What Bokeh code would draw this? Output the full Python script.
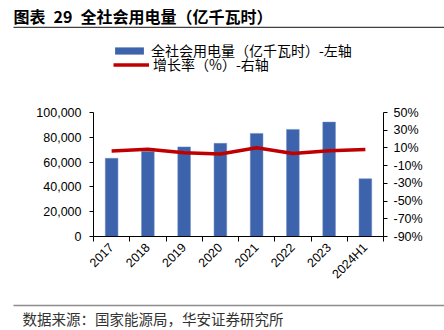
from bokeh.plotting import figure
from bokeh.layouts import column
from bokeh.models import (Range1d, LinearAxis, FixedTicker, NumeralTickFormatter,
                          PrintfTickFormatter, Legend, LegendItem, ColumnDataSource)
from bokeh.core.properties import value
from bokeh.embed import file_html
from bokeh.resources import INLINE
from math import pi

categories = ["2017", "2018", "2019", "2020", "2021", "2022", "2023", "2024H1"]
consumption = [63077, 68449, 72255, 75110, 83128, 86372, 92241, 46575]
growth = [6.6, 8.5, 4.5, 3.1, 10.3, 3.6, 6.7, 8.1]
left_ticks = [0, 20000, 40000, 60000, 80000, 100000]
right_ticks = [-90, -70, -50, -30, -10, 10, 30, 50]

title_text = "图表\u200229\u2002全社会用电量（亿千瓦时）"
bar_label = "全社会用电量（亿千瓦时）-左轴"
line_label = "增长率（%）-右轴"
source_text = "数据来源：国家能源局，华安证券研究所"

BAR_COLOR = "#3C63AB"
BAR_EDGE = "#6F8CC4"
LINE_COLOR = "#C00000"
CJK = "Noto Sans CJK SC"
NUM = "Liberation Sans"
W = 444


def bare(fig):
    fig.frame_align = False
    fig.outline_line_color = None
    fig.xgrid.visible = False
    fig.ygrid.visible = False
    return fig


def rule_axis(ax, color, lo, hi):
    # an axis whose ticks have zero length and no label text: only its line shows (a rule)
    ax.ticker = FixedTicker(ticks=[lo, hi], minor_ticks=[])
    ax.major_label_overrides = {lo: "", hi: ""}
    ax.major_tick_out = 0
    ax.major_tick_in = 0
    ax.minor_tick_out = 0
    ax.minor_tick_in = 0
    ax.major_tick_line_color = None
    ax.minor_tick_line_color = None
    ax.major_label_standoff = 0
    ax.major_label_text_font_size = "1px"
    ax.axis_line_color = color
    ax.axis_line_width = 1.5


# ---------- title with rule under it ----------
hdr = bare(figure(width=W, height=28, output_backend="svg", toolbar_location=None,
                  x_range=Range1d(13, W), y_range=Range1d(0, 27),
                  x_axis_location="below", y_axis_location=None,
                  min_border_left=13, min_border_right=0, min_border_top=0, min_border_bottom=1))
rule_axis(hdr.xaxis[0], "#404040", 13, W)
hdr.text(x=[13], y=[27 - 15], text=[title_text], text_font=value(CJK), text_font_style="bold",
         text_font_size="16px", text_baseline="middle", text_color="black")

# ---------- legend ----------
LH = 72
leg = bare(figure(width=W, height=LH, output_backend="svg", toolbar_location=None,
                  x_range=Range1d(0, W), y_range=Range1d(0, LH),
                  x_axis_location=None, y_axis_location=None, min_border=0))
# legend proxies (draw nothing themselves)
leg_bar = leg.vbar(x=[0], top=[0], bottom=[0], width=0, fill_color=BAR_COLOR, line_color=None)
leg_line = leg.line(x=[0], y=[0], line_color=LINE_COLOR, line_width=3.5)


def make_legend(label, rend, loc):
    lg = Legend(items=[LegendItem(label=label, renderers=[rend])], location=loc)
    lg.margin = 0
    lg.padding = 0
    lg.spacing = 0
    lg.border_line_color = None
    lg.background_fill_alpha = 0
    lg.glyph_width = 36
    lg.glyph_height = 9
    lg.label_height = 9
    lg.label_standoff = 4
    lg.label_text_font = CJK
    lg.label_text_font_size = "14px"
    lg.label_text_color = "black"
    lg.label_text_baseline = "middle"
    return lg


leg.add_layout(make_legend(bar_label, leg_bar, (111, 40)), "center")
leg.add_layout(make_legend(line_label, leg_line, (113, 26)), "center")

# ---------- main chart ----------
n = len(categories)
xs = [i + 0.5 for i in range(n)]
src = ColumnDataSource(dict(x=xs, cons=consumption, g=growth))

p = bare(figure(width=W, height=196, output_backend="svg", toolbar_location=None,
                x_range=Range1d(0, n), y_range=Range1d(0, 100000),
                min_border_left=93, min_border_right=61, min_border_top=12, min_border_bottom=60))
p.extra_y_ranges = {"pct": Range1d(-90, 50)}

bars = p.vbar(x="x", top="cons", width=0.35, source=src, fill_color=BAR_COLOR,
              line_color=BAR_EDGE, line_width=0.5)
line = p.line(x="x", y="g", source=src, y_range_name="pct", line_color=LINE_COLOR, line_width=3.5)

xa = p.xaxis[0]
xa.ticker = FixedTicker(ticks=xs, minor_ticks=list(range(n + 1)))
xa.major_label_overrides = {x: c for x, c in zip(xs, categories)}
xa.major_tick_out = 0
xa.major_tick_in = 0
xa.minor_tick_out = 5
xa.minor_tick_in = 0
xa.minor_tick_line_color = "black"
xa.axis_line_color = "black"
xa.major_label_orientation = pi / 4
xa.major_label_text_font = NUM
xa.major_label_text_font_size = "12.5px"
xa.major_label_text_color = "black"
xa.major_label_standoff = 4

ya = p.yaxis[0]
ya.ticker = FixedTicker(ticks=left_ticks)
ya.formatter = NumeralTickFormatter(format="0,0")
ya.major_tick_out = 4
ya.major_tick_in = 0
ya.minor_tick_out = 0
ya.minor_tick_in = 0
ya.axis_line_color = "black"
ya.major_label_text_font = NUM
ya.major_label_text_font_size = "12.5px"
ya.major_label_text_color = "black"
ya.major_label_standoff = 8

ra = LinearAxis(y_range_name="pct", ticker=FixedTicker(ticks=right_ticks),
                formatter=PrintfTickFormatter(format="%d%%"))
ra.major_tick_out = 4
ra.major_tick_in = 0
ra.minor_tick_out = 0
ra.minor_tick_in = 0
ra.axis_line_color = "black"
ra.major_label_text_font = NUM
ra.major_label_text_font_size = "12.5px"
ra.major_label_text_color = "black"
ra.major_label_standoff = 6
p.add_layout(ra, "right")

# ---------- footer: rule above the source line ----------
ftr = bare(figure(width=W, height=34, output_backend="svg", toolbar_location=None,
                  x_range=Range1d(13, W), y_range=Range1d(0, 25),
                  x_axis_location="above", y_axis_location=None,
                  min_border_left=13, min_border_right=0, min_border_top=9, min_border_bottom=0))
rule_axis(ftr.xaxis[0], "#8C8C8C", 13, W)
ftr.text(x=[22], y=[25 - 13], text=[source_text], text_font=value(CJK), text_font_size="14.5px",
         text_baseline="middle", text_color="#333333")

layout = column(hdr, leg, p, ftr, spacing=0)
open("out.html", "w").write(file_html(layout, INLINE))
